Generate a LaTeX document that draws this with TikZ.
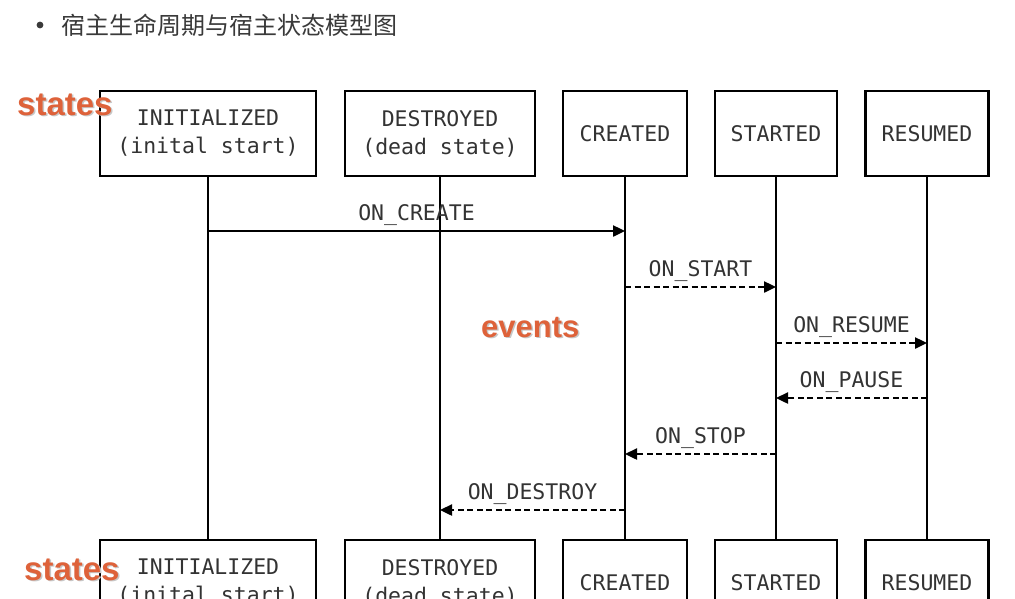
\documentclass[tikz,border=0pt]{standalone}
\usepackage{fontspec}
\newfontfamily\boxfont{DejaVu Sans Mono}
\newfontfamily\cjk{Noto Sans CJK SC}
\newfontfamily\lblfont{Liberation Sans}
\usetikzlibrary{arrows.meta}
\definecolor{txt}{HTML}{333333}
\definecolor{ttl}{HTML}{3A3A3A}
\definecolor{hl}{RGB}{222,98,58}
\tikzset{
  statebox/.style={draw, line width=2.4pt, minimum height=85pt, inner sep=0pt,
    font=\boxfont\fontsize{21.5}{28}\selectfont, text=txt, align=center},
  life/.style={line width=2.4pt},
  evsolid/.style={line width=2.4pt, -{Triangle[length=12pt,width=11pt]}},
  evdash/.style={evsolid, dash pattern=on 6pt off 3.5pt},
  evlabel/.style={anchor=base, font=\boxfont\fontsize{21.5}{24}\selectfont, text=txt, inner sep=0pt},
  hltext/.style={anchor=base west, font=\lblfont\bfseries\fontsize{31}{31}\selectfont, text=hl, inner sep=0pt},
  hlshadow/.style={hltext, text=black!22},
  hlbig/.style={font=\lblfont\bfseries\fontsize{33}{33}\selectfont}
}
\begin{document}
\begin{tikzpicture}[x=1pt,y=-1pt]
\useasboundingbox (0,0) rectangle (1015,598);
\clip (0,0) rectangle (1015,598);
\fill[white] (0,0) rectangle (1015,598);
% title
\fill[ttl] (40,25) circle (3.4pt);
\node[anchor=west, inner sep=0pt, font=\cjk\fontsize{24}{24}\selectfont, text=ttl] (title) at (61,25) {宿主生命周期与宿主状态模型图};
% top states
\node[statebox, minimum width=216pt] (initT) at (208,133.5) {INITIALIZED\\(inital start)};
\node[statebox, minimum width=190pt] (destT) at (440,133.5) {DESTROYED\\(dead state)};
\node[statebox, minimum width=124pt] (creaT) at (625,133.5) {CREATED};
\node[statebox, minimum width=122pt] (starT) at (776,133.5) {STARTED};
\node[statebox, minimum width=123pt] (resuT) at (927,133.5) {RESUMED};
% bottom states
\node[statebox, minimum width=216pt] (initB) at (208,582.5) {INITIALIZED\\(inital start)};
\node[statebox, minimum width=190pt] (destB) at (440,582.5) {DESTROYED\\(dead state)};
\node[statebox, minimum width=124pt] (creaB) at (625,582.5) {CREATED};
\node[statebox, minimum width=122pt] (starB) at (776,582.5) {STARTED};
\node[statebox, minimum width=123pt] (resuB) at (927,582.5) {RESUMED};
% lifelines
\draw[life] (initT.south) -- (initB.north);
\draw[life] (destT.south) -- (destB.north);
\draw[life] (creaT.south) -- (creaB.north);
\draw[life] (starT.south) -- (starB.north);
\draw[life] (resuT.south) -- (resuB.north);
% event anchor points on lifelines
\coordinate (i1) at (208,231); \coordinate (c1) at (625,231);
\coordinate (c2) at (625,287); \coordinate (s2) at (776,287);
\coordinate (s3) at (776,343); \coordinate (r3) at (927,343);
\coordinate (r4) at (927,398); \coordinate (s4) at (776,398);
\coordinate (s5) at (776,454); \coordinate (c5) at (625,454);
\coordinate (c6) at (625,510); \coordinate (d6) at (440,510);
% events
\draw[evsolid] (i1) -- (c1) node[evlabel, pos=0.5, yshift=11pt] (lCreate) {ON\_CREATE};
\draw[evdash] (c2) -- (s2) node[evlabel, pos=0.5, yshift=11pt] (lStart) {ON\_START};
\draw[evdash] (s3) -- (r3) node[evlabel, pos=0.5, yshift=11pt] (lResume) {ON\_RESUME};
\draw[evdash] (r4) -- (s4) node[evlabel, pos=0.5, yshift=11pt] (lPause) {ON\_PAUSE};
\draw[evdash] (s5) -- (c5) node[evlabel, pos=0.5, yshift=11pt] (lStop) {ON\_STOP};
\draw[evdash] (c6) -- (d6) node[evlabel, pos=0.5, yshift=11pt] (lDestroy) {ON\_DESTROY};
% highlight labels
\node[hlshadow, hlbig] (statesTs) at (18.5,116.5) {states};
\node[hltext, hlbig] (statesT) at (17,115) {states};
\node[hlshadow] (eventsS) at (482.5,338.5) {events};
\node[hltext] (events) at (481,337) {events};
\node[hlshadow, hlbig] (statesBs) at (25.5,581.5) {states};
\node[hltext, hlbig] (statesB) at (24,580) {states};
\end{tikzpicture}
\end{document}
